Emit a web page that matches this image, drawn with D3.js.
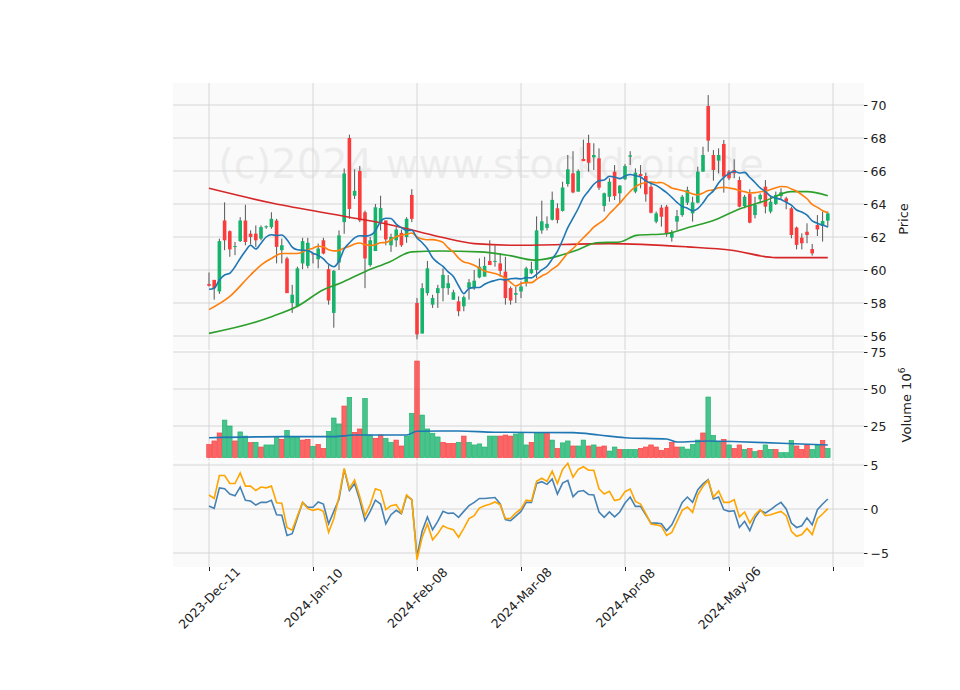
<!DOCTYPE html>
<html><head><meta charset="utf-8">
<script src="https://cdn.jsdelivr.net/npm/d3@7"></script>
<style>body{margin:0;background:#fff}svg{font-family:"DejaVu Sans",sans-serif}</style>
</head><body><svg id="c" width="960" height="690"></svg>
<script>
const opens=[59.15,59.4,58.7,63.0,62.35,61.4,61.75,63.0,62.2,62.2,61.9,62.6,62.6,63.0,61.2,60.7,58.0,57.8,60.4,60.25,61.0,60.65,61.8,60.05,57.4,60.45,62.9,68.0,64.5,66.0,63.5,60.3,61.15,62.85,63.0,61.5,61.8,62.25,62.0,64.55,58.0,56.15,58.6,57.9,58.6,58.9,58.9,58.2,58.1,57.8,58.9,58.9,59.55,59.6,60.55,60.5,60.4,59.9,58.9,58.5,58.7,59.25,59.8,60.0,62.4,62.55,63.05,63.74,63.58,65.21,65.86,64.75,66.73,67.7,66.83,66.77,63.88,64.44,65.96,64.65,65.5,66.87,64.75,65.82,65.7,65.05,62.93,63.78,63.84,61.96,62.93,63.33,64.08,63.43,64.08,65.96,69.94,66.97,66.63,67.64,65.96,66.06,65.45,63.88,64.6,63.33,64.28,65.05,63.54,64.0,64.48,64.34,63.74,62.57,61.96,62.32,61.27,62.73,62.67,62.99];
const highs=[59.85,59.4,61.9,64.1,62.4,61.7,63.2,63.95,62.4,62.7,62.7,62.7,63.5,63.1,61.9,60.8,59.1,60.2,61.95,61.95,61.0,61.6,61.95,60.3,60.0,62.4,66.15,68.2,66.1,66.3,63.6,62.0,64.0,64.5,63.0,62.2,62.6,62.45,63.2,64.9,58.3,59.2,60.55,58.5,59.1,60.1,59.7,58.8,58.4,58.45,59.45,60.0,60.7,60.8,61.8,61.5,61.0,60.8,59.0,59.0,59.3,60.2,60.5,63.25,64.2,63.25,64.75,64.04,65.35,66.97,67.2,66.1,67.9,68.2,67.68,67.37,64.69,65.56,66.36,65.15,66.42,67.2,66.16,66.36,65.9,65.35,63.54,63.94,63.94,62.42,63.64,64.55,65.05,64.44,66.26,67.47,70.6,67.27,67.37,67.88,66.06,66.71,65.66,64.55,64.89,64.44,64.65,65.45,64.44,64.75,64.95,64.44,63.84,62.63,62.22,62.83,61.58,63.33,63.54,63.54];
const lows=[59.0,58.2,58.55,61.2,60.8,60.9,61.7,61.5,61.55,61.4,61.8,62.5,62.5,60.4,60.4,58.6,57.4,57.75,60.05,60.1,60.4,60.1,60.95,57.9,56.5,60.0,62.2,63.1,64.3,62.9,58.9,60.2,61.15,62.4,61.5,61.1,61.4,61.4,61.65,62.9,55.8,56.15,58.45,57.7,57.7,58.1,58.5,58.2,57.2,57.5,58.2,58.8,59.5,59.6,60.3,60.2,59.6,57.9,57.9,58.0,58.3,59.0,59.75,59.5,62.2,62.4,63.0,62.83,63.54,65.05,64.65,64.75,66.6,65.96,66.06,64.85,63.54,64.14,64.24,64.04,65.45,66.36,64.65,64.95,64.14,63.43,62.83,62.63,62.02,61.72,62.42,63.23,63.94,62.93,64.04,65.96,67.17,65.41,65.86,64.69,65.45,65.56,63.8,63.74,62.83,63.13,64.04,63.43,63.43,63.94,64.24,63.68,61.92,61.25,61.25,61.62,60.87,62.06,61.72,62.59];
const closes=[59.05,58.9,61.75,61.8,61.25,61.45,63.0,61.7,62.0,61.8,62.6,62.65,63.1,61.4,61.5,58.6,58.5,60.1,61.75,61.65,60.95,61.3,61.0,58.15,59.95,62.1,65.85,63.7,64.8,63.0,60.7,61.8,63.8,63.75,61.85,62.0,62.45,61.5,63.1,63.1,56.1,58.9,60.1,58.3,58.9,59.7,59.2,58.65,57.5,58.35,59.25,59.35,60.2,60.25,60.3,60.55,59.95,58.3,58.15,58.6,59.0,60.1,60.05,62.4,62.95,62.8,64.25,63.03,65.0,66.1,64.7,66.0,66.6,66.5,66.97,64.99,64.65,65.35,64.48,65.11,66.3,66.95,65.9,65.7,64.59,63.47,63.43,63.23,62.18,62.28,63.27,64.44,64.85,64.1,65.96,66.97,67.84,66.06,66.97,65.66,65.56,65.86,63.84,64.44,62.87,63.94,64.55,63.84,64.14,64.55,64.71,64.14,62.12,61.52,61.62,62.12,61.01,62.46,62.97,63.43];
const volumes=[12.6,14.9,20.3,29,25,14.9,21,18.2,13.8,14,10.8,12.2,12.2,17.1,16,22.1,18,18,15.5,16,11.3,12.6,9.9,21.4,30.4,26.4,38.5,44.4,20.7,23,43.7,18.9,16.7,18.9,16.7,14,15.5,11.5,18.2,33.6,68.9,32.4,23,20.1,17.6,14,13.3,13.3,14,18.2,14,12.2,12.9,10.8,18.2,18.2,18.2,18.9,18.2,19.6,20.5,12.2,14,20.5,20.5,20.5,15.5,9.9,13.6,14.9,11.5,11.5,15.5,11.5,12.2,10.8,11.5,8.1,10.8,9.2,9.2,9.2,9.2,9.9,10.8,12.2,10.8,8.6,9.9,14,10.8,10.8,9.4,12.6,15.5,20.3,44.6,18.7,14,16,12.2,9.9,12.2,9.2,9.9,7.7,8.6,12.2,9.2,9.2,7.0,7.0,15.3,11.5,9.2,12.2,9.2,12.2,15.3,9.9];
const volUp="ddd uudu udud uuud uuud dudd uuud uddu uddu udd uudu uuud ddud uuuu uudd du uudu udud uudu udud duud uuud dddd ddd uuuu duuu dudd udud uudu uudd duud uu".replace(/ /g,"").split("").map(c=>c==="u");
const volBase=3.6;
const oscBlue=[0.34,0.07,2.4,2.3,1.7,1.5,2.5,1.0,0.9,0.45,0.75,0.75,1.0,-0.65,-0.7,-3.0,-2.8,-1.0,0.75,0.2,0.2,0.8,0.57,-1.67,-0.27,1.1,4.5,2.1,2.9,1.0,-1.33,-0.27,1.0,0.57,-1.7,-0.65,-0.15,-0.53,1.5,1.06,-5.4,-2.5,-0.9,-2.35,-1.4,-0.27,-0.5,-0.45,-0.95,-0.27,0.38,0.75,1.2,1.2,1.25,1.3,0.57,-1.2,-1.33,-0.8,-0.27,0.75,0.75,2.9,3.1,2.8,3.4,1.7,2.95,3.25,1.4,2.0,2.1,1.65,1.6,-0.34,-0.95,-0.34,-0.9,-0.34,0.68,1.36,0.3,0.3,-0.65,-1.6,-1.6,-1.67,-2.46,-1.8,-0.57,0.75,1.36,0.75,2.2,2.85,3.33,1.14,1.36,-0.08,-0.27,-0.2,-2.1,-1.4,-2.46,-1.0,-0.15,-0.45,-0.08,0.38,0.75,0,-1.6,-2.1,-1.9,-1.0,-1.8,-0.08,0.57,1.14];
const oscOrange=[1.59,1.2,3.8,3.8,2.9,2.9,4.1,2.6,2.6,2.1,2.5,2.4,2.6,0.7,0.65,-2.1,-2.4,-0.8,0.75,0.04,-0.15,0,-0.27,-2.65,-1.1,1.4,4.6,2.3,3.3,1.4,-0.76,0.49,2.3,2.1,-0.08,0.38,0.49,-0.45,1.6,1.06,-5.75,-3.2,-1.7,-3.5,-2.8,-1.9,-2.2,-2.35,-3.2,-2.2,-1.1,-0.76,0.11,0.38,0.53,0.8,0.49,-1.1,-1.06,-0.45,0,1.0,0.9,3.14,3.5,3.14,4.3,2.9,4.5,5.2,3.6,4.5,4.8,4.4,4.4,2.3,1.7,2.0,0.95,1.1,1.97,2.27,0.87,0.57,-0.53,-1.7,-1.8,-1.95,-3.0,-2.65,-1.4,-0.15,0.23,-0.38,1.6,2.58,3.25,1.36,2.05,0.75,0.75,1.06,-0.9,-0.34,-1.6,-0.65,-0.08,-0.76,-0.65,-0.45,-0.27,-0.76,-2.53,-3.1,-2.9,-2.2,-2.9,-1.1,-0.57,0.04];
const ma10Lead=[58.83,58.9,59.4,59.7,59.8,60.2,60.7,61.15,61.5];
const ma20LeadIdx=[0,4,8,10,12,14,17], ma20LeadVal=[57.6,58.4,59.7,60.3,60.7,61.0,61.0];
const ma50Idx=[0,8.5,12.3,17,22,25.2,30,34.8,39,44.4,52,57.9,62.5,70.7,74.5,79,82.2,88,92.5,97,102,107,112,115,119];
const ma50Val=[56.16,56.8,57.2,57.8,58.8,59.2,59.9,60.5,61.1,61.15,61.1,60.87,60.6,61.2,61.65,61.7,62.1,62.2,62.6,63.0,63.7,64.2,64.75,64.75,64.5];
const ma200Idx=[0,12.3,27,35,44.5,51,59,77,92,100.5,109,119];
const ma200Val=[64.95,64.04,63.2,62.73,62.0,61.6,61.5,61.6,61.4,61.2,60.75,60.75];
const volMaIdx=[0,14,24,28,38,40,48,55,70,75,80,88,90,96,102,110,119];
const volMaVal=[17.1,17.8,17.8,18.9,18.9,21.5,21.6,20.8,20.5,18.9,17.1,16.2,14.2,14.9,14.4,13.3,12.2];
const tickIdx=[0,20,40,60,80,100,120];
const tickLabels=["2023-Dec-11","2024-Jan-10","2024-Feb-08","2024-Mar-08","2024-Apr-08","2024-May-06",""];
const priceTicks=[56,58,60,62,64,66,68,70], volTicks=[25,50,75], oscTicks=[-5,0,5];

const svg=d3.select("#c");
const L=173,R=864;
const x=d3.scaleLinear().domain([0,120]).range([209,833]);
const panels=[{t:83,b:350},{t:351,b:461},{t:462,b:567}];
const yP=d3.scaleLinear().domain([56,70]).range([336,105]);
const yV=d3.scaleLinear().domain([25,50]).range([426,389]);
const yO=d3.scaleLinear().domain([-5,5]).range([553,465]);
const up="#17b26b",dn="#fa3c3c",grid="#d3d3d3";
panels.forEach(p=>svg.append("rect").attr("x",L).attr("y",p.t).attr("width",R-L).attr("height",p.b-p.t).attr("fill","#fafafa"));
svg.append("text").attr("x",491).attr("y",178).attr("text-anchor","middle").attr("font-size",40).attr("fill","#000").attr("opacity",0.05).text("(c)2024 www.stockdroid.de");
function gridAxis(p,y,ticks){
  const g=svg.append("g");
  ticks.forEach(t=>{g.append("line").attr("x1",L).attr("x2",R).attr("y1",y(t)).attr("y2",y(t)).attr("stroke",grid).attr("stroke-width",0.9);});
  tickIdx.forEach(t=>g.append("line").attr("x1",x(t)).attr("x2",x(t)).attr("y1",p.t).attr("y2",p.b).attr("stroke",grid).attr("stroke-width",0.9));
  const ax=svg.append("g").attr("transform",`translate(${R},0)`).call(d3.axisRight(y).tickValues(ticks).tickSize(3.5).tickPadding(3).tickFormat(d=>d<0?"\u2212"+Math.abs(d):d));
  ax.select(".domain").remove();ax.selectAll("text").attr("font-size",12.5).attr("font-family","DejaVu Sans").attr("fill","#222");
  ax.selectAll("line").attr("stroke","#222");
}
gridAxis(panels[0],yP,priceTicks);gridAxis(panels[1],yV,volTicks);gridAxis(panels[2],yO,oscTicks);
const xa=svg.append("g").attr("transform",`translate(0,567)`).call(d3.axisBottom(x).tickValues(tickIdx).tickSize(4).tickFormat((d,i)=>tickLabels[i]));
xa.select(".domain").remove();xa.selectAll("line").attr("stroke","#222");
xa.selectAll("text").attr("font-size",12.5).attr("font-family","DejaVu Sans").attr("fill","#222").attr("text-anchor","middle").attr("y",0).attr("dy","0.35em").attr("transform","translate(0,31) rotate(-45)");
svg.append("text").attr("transform","translate(908,219) rotate(-90)").attr("text-anchor","middle").attr("font-size",13).attr("fill","#222").text("Price");
const vl=svg.append("text").attr("transform","translate(911,405) rotate(-90)").attr("text-anchor","middle").attr("font-size",13).attr("fill","#222");
vl.append("tspan").text("Volume  10");vl.append("tspan").attr("font-size",9).attr("dy",-6).text("6");
const idx=d3.range(closes.length);
const cg=svg.append("g");
idx.forEach(i=>{
  const c=closes[i]>=opens[i]?up:dn;
  cg.append("line").attr("x1",x(i)).attr("x2",x(i)).attr("y1",yP(highs[i])).attr("y2",yP(lows[i])).attr("stroke","#555").attr("stroke-width",1);
  const t=yP(Math.max(opens[i],closes[i])),b=yP(Math.min(opens[i],closes[i]));
  cg.append("rect").attr("x",x(i)-1.8).attr("width",3.6).attr("y",t).attr("height",Math.max(1,b-t)).attr("fill",c);
});
const rolling=n=>idx.map(i=>i<n-1?null:d3.mean(closes.slice(i-n+1,i+1)));
const ma10=rolling(10).map((v,i)=>i<9?ma10Lead[i]:v);
const ma20=rolling(20);
const ln=d3.line().x(d=>x(d[0])).y(d=>yP(d[1])).curve(d3.curveMonotoneX);
const pathP=(pts,col)=>svg.append("path").attr("d",ln(pts)).attr("fill","none").attr("stroke",col).attr("stroke-width",1.6);
pathP(ma200Idx.map((v,i)=>[v,ma200Val[i]]),"#d62728");
pathP(ma50Idx.map((v,i)=>[v,ma50Val[i]]),"#2ca02c");
pathP(ma20LeadIdx.map((v,i)=>[v,ma20LeadVal[i]]).concat(idx.filter(i=>i>=19).map(i=>[i,ma20[i]])),"#ff7f0e");
pathP(idx.map(i=>[i,ma10[i]]),"#1f77b4");
idx.forEach(i=>{
  const c=volUp[i]?up:dn;
  svg.append("rect").attr("x",x(i)-2.3).attr("width",4.6).attr("y",yV(volumes[i])).attr("height",yV(volBase)-yV(volumes[i])).attr("fill",c).attr("fill-opacity",0.78).attr("stroke",c).attr("stroke-width",0.6);
});
svg.append("path").attr("d",d3.line().x(d=>x(d[0])).y(d=>yV(d[1])).curve(d3.curveMonotoneX)(volMaIdx.map((v,i)=>[v,volMaVal[i]]))).attr("fill","none").attr("stroke","#1f77b4").attr("stroke-width",1.6);
const lo=d3.line().x((d,i)=>x(i)).y(d=>yO(d));
svg.append("path").attr("d",lo(oscBlue)).attr("fill","none").attr("stroke","#4682b4").attr("stroke-width",1.6);
svg.append("path").attr("d",lo(oscOrange)).attr("fill","none").attr("stroke","#ffa500").attr("stroke-width",1.6);
</script></body></html>
